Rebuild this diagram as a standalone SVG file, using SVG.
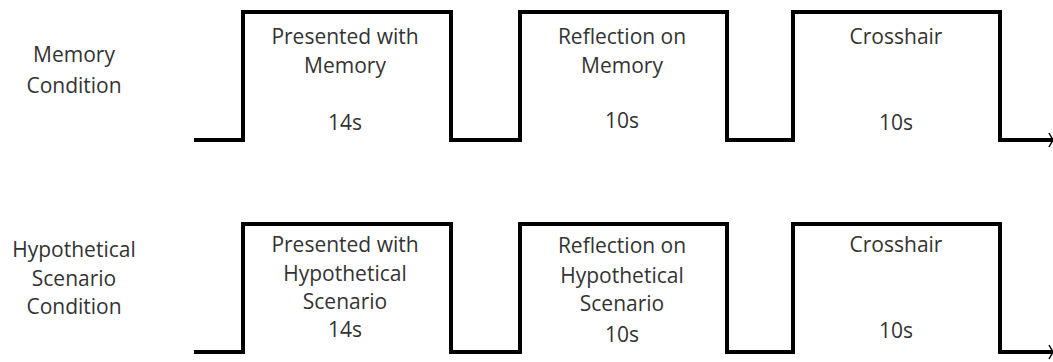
<svg xmlns="http://www.w3.org/2000/svg" width="1053" height="362" viewBox="0 0 1053 362">
<style>
.wave{fill:none;stroke:#000;stroke-width:4;stroke-linejoin:miter;stroke-linecap:butt}
.tip{fill:none;stroke:#000;stroke-width:1.5}
text{font-family:"Open Sans","Noto Sans","Liberation Sans",sans-serif;font-size:21px;fill:#333;text-anchor:middle}
</style>
<rect width="1053" height="362" fill="#fff"/>
<g id="connectors">
<path class="wave" d="M194,140 H243 V12 H451 V140 H520 V12 H727 V140 H793 V12 H1000 V140 H1053"/>
<path class="tip" d="M1049,133 L1053,140 L1049,147"/>
<path class="wave" d="M194,352 H243 V224 H451 V352 H520 V224 H727 V352 H793 V224 H1000 V352 H1053"/>
<path class="tip" d="M1049,345 L1053,352 L1049,359"/>
</g>
<g id="label-memory-condition">
<text x="74" y="62">Memory</text>
<text x="74" y="93">Condition</text>
</g>
<g id="mem-presented">
<text x="345" y="44">Presented with</text>
<text x="345" y="73">Memory</text>
<text x="345" y="130">14s</text>
</g>
<g id="mem-reflection">
<text x="622" y="44">Reflection on</text>
<text x="622" y="73">Memory</text>
<text x="622" y="128">10s</text>
</g>
<g id="mem-crosshair">
<text x="896" y="44">Crosshair</text>
<text x="896" y="130">10s</text>
</g>
<g id="label-hypo-condition">
<text x="74" y="257">Hypothetical</text>
<text x="74" y="286">Scenario</text>
<text x="74" y="314">Condition</text>
</g>
<g id="hypo-presented">
<text x="345" y="252">Presented with</text>
<text x="345" y="281">Hypothetical</text>
<text x="345" y="309">Scenario</text>
<text x="345" y="337">14s</text>
</g>
<g id="hypo-reflection">
<text x="622" y="253">Reflection on</text>
<text x="622" y="283">Hypothetical</text>
<text x="622" y="311">Scenario</text>
<text x="622" y="342">10s</text>
</g>
<g id="hypo-crosshair">
<text x="896" y="252">Crosshair</text>
<text x="896" y="338">10s</text>
</g>
</svg>
